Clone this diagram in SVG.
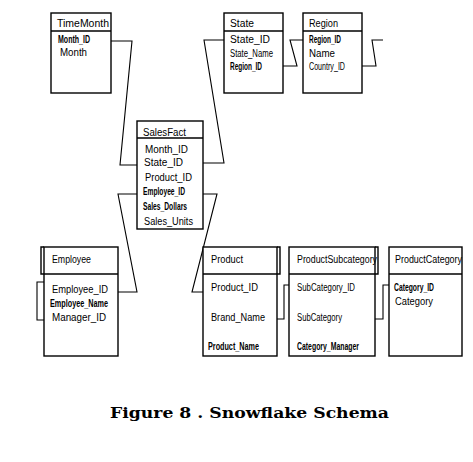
<svg xmlns="http://www.w3.org/2000/svg" width="473" height="462" viewBox="0 0 473 462">
<style>
.bg{fill:#fff}
.box{fill:#fff;stroke:#000;stroke-width:1.4}
.ln{fill:none;stroke:#000;stroke-width:1.4}
.con{fill:none;stroke:#000;stroke-width:1.1}
text{font-family:"Liberation Sans","DejaVu Sans",sans-serif;font-size:10px;fill:#000}
.b{font-weight:bold}
.cap{font-family:"DejaVu Serif","Liberation Serif",serif;font-size:15px;font-weight:bold}
</style>
<rect class="bg" x="0" y="0" width="473" height="462"/>
<g id="connectors">
<polyline class="con" points="111,41 132,41 120,165 137,165"/>
<polyline class="con" points="224,40 204,40 224,163 203,163"/>
<polyline class="con" points="283,66 297,66 290,40 303,40"/>
<polyline class="con" points="362,66 376,66 372,40 383,40"/>
<polyline class="con" points="137,194 118,194 137,292 118,292"/>
<polyline class="con" points="203,194 217,194 192,292 203,292"/>
<polyline class="con" points="277,319 284,319 284,285 289,285"/>
<polyline class="con" points="375,319 383,319 383,285 389,285"/>
<polyline class="con" points="44,282 37,282 37,320 44,320"/>
</g>
<g id="TimeMonth">
<rect class="box" x="51" y="13" width="60" height="80"/>
<line class="ln" x1="51" y1="31" x2="111" y2="31"/>
<text x="57" y="27" textLength="52" lengthAdjust="spacingAndGlyphs">TimeMonth</text>
<text x="58" y="43" textLength="32" lengthAdjust="spacingAndGlyphs" class="b">Month_ID</text>
<text x="60" y="56" textLength="27" lengthAdjust="spacingAndGlyphs">Month</text>
</g>
<g id="State">
<rect class="box" x="224" y="13" width="59" height="80"/>
<line class="ln" x1="224" y1="31" x2="283" y2="31"/>
<text x="230" y="27" textLength="24" lengthAdjust="spacingAndGlyphs">State</text>
<text x="230" y="43" textLength="40" lengthAdjust="spacingAndGlyphs">State_ID</text>
<text x="230" y="57" textLength="43" lengthAdjust="spacingAndGlyphs">State_Name</text>
<text x="230" y="70" textLength="32" lengthAdjust="spacingAndGlyphs" class="b">Region_ID</text>
</g>
<g id="Region">
<rect class="box" x="303" y="13" width="59" height="80"/>
<line class="ln" x1="303" y1="31" x2="362" y2="31"/>
<text x="309" y="27" textLength="29" lengthAdjust="spacingAndGlyphs">Region</text>
<text x="309" y="43" textLength="32" lengthAdjust="spacingAndGlyphs" class="b">Region_ID</text>
<text x="309" y="57" textLength="26" lengthAdjust="spacingAndGlyphs">Name</text>
<text x="309" y="70" textLength="36" lengthAdjust="spacingAndGlyphs">Country_ID</text>
</g>
<g id="SalesFact">
<rect class="box" x="137" y="121" width="66" height="108"/>
<line class="ln" x1="137" y1="138" x2="203" y2="138"/>
<text x="143" y="136" textLength="43" lengthAdjust="spacingAndGlyphs">SalesFact</text>
<text x="145" y="153" textLength="43" lengthAdjust="spacingAndGlyphs">Month_ID</text>
<text x="144" y="166" textLength="39" lengthAdjust="spacingAndGlyphs">State_ID</text>
<text x="145" y="181" textLength="47" lengthAdjust="spacingAndGlyphs">Product_ID</text>
<text x="143" y="195" textLength="42" lengthAdjust="spacingAndGlyphs" class="b">Employee_ID</text>
<text x="143" y="210" textLength="44" lengthAdjust="spacingAndGlyphs" class="b">Sales_Dollars</text>
<text x="144" y="225" textLength="49" lengthAdjust="spacingAndGlyphs">Sales_Units</text>
</g>
<g id="Employee">
<rect class="box" x="44" y="247" width="74" height="109"/>
<line class="ln" x1="44" y1="274" x2="118" y2="274"/>
<polyline class="ln" points="44,247 41,247 41,274 44,274"/>
<text x="52" y="263" textLength="39" lengthAdjust="spacingAndGlyphs">Employee</text>
<text x="52" y="293" textLength="56" lengthAdjust="spacingAndGlyphs">Employee_ID</text>
<text x="50" y="307" textLength="58" lengthAdjust="spacingAndGlyphs" class="b">Employee_Name</text>
<text x="52" y="321" textLength="54" lengthAdjust="spacingAndGlyphs">Manager_ID</text>
</g>
<g id="Product">
<rect class="box" x="203" y="247" width="74" height="109"/>
<polyline class="ln" points="277,247 280,247 280,274 277,274"/>
<line class="ln" x1="203" y1="274" x2="277" y2="274"/>
<text x="211" y="263" textLength="32" lengthAdjust="spacingAndGlyphs">Product</text>
<text x="211" y="291" textLength="47" lengthAdjust="spacingAndGlyphs">Product_ID</text>
<text x="211" y="321" textLength="54" lengthAdjust="spacingAndGlyphs">Brand_Name</text>
<text x="208" y="350" textLength="51" lengthAdjust="spacingAndGlyphs" class="b">Product_Name</text>
</g>
<g id="ProductSubcategory">
<rect class="box" x="289" y="247" width="86" height="109"/>
<polyline class="ln" points="375,247 378,247 378,274 375,274"/>
<line class="ln" x1="289" y1="274" x2="375" y2="274"/>
<text x="297" y="263" textLength="80" lengthAdjust="spacingAndGlyphs">ProductSubcategory</text>
<text x="297" y="291" textLength="58" lengthAdjust="spacingAndGlyphs">SubCategory_ID</text>
<text x="297" y="321" textLength="45" lengthAdjust="spacingAndGlyphs">SubCategory</text>
<text x="297" y="350" textLength="62" lengthAdjust="spacingAndGlyphs" class="b">Category_Manager</text>
</g>
<g id="ProductCategory">
<rect class="box" x="389" y="247" width="73" height="109"/>
<line class="ln" x1="389" y1="274" x2="462" y2="274"/>
<text x="395" y="263" textLength="67" lengthAdjust="spacingAndGlyphs">ProductCategory</text>
<text x="394" y="291" textLength="40" lengthAdjust="spacingAndGlyphs" class="b">Category_ID</text>
<text x="395" y="305" textLength="38" lengthAdjust="spacingAndGlyphs">Category</text>
</g>
<text class="cap" x="110" y="418" textLength="279" lengthAdjust="spacingAndGlyphs">Figure 8 . Snowflake Schema</text>
</svg>
